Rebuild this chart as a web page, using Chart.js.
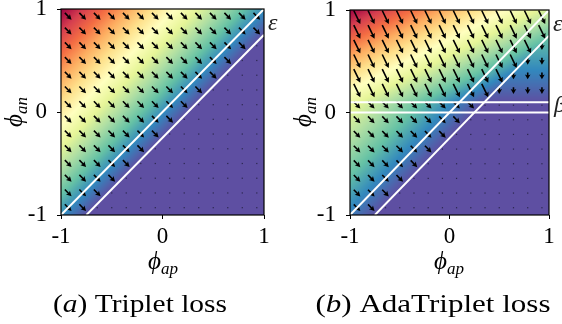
<!DOCTYPE html>
<html><head><meta charset="utf-8">
<script src="https://cdn.jsdelivr.net/npm/chart.js@4.4.0/dist/chart.umd.min.js"></script>
<style>
html,body{margin:0;padding:0;background:#fff;width:562px;height:324px;overflow:hidden;}
canvas{position:absolute;top:0;}
#ca{left:0;} #cb{left:281px;}
</style></head><body>
<canvas id="ca" width="281" height="324"></canvas>
<canvas id="cb" width="281" height="324"></canvas>
<script>
// ---------- data ----------
const tickValues = [-1, 0, 1];
const gridCenters = [-0.929, -0.786, -0.643, -0.5, -0.357, -0.214, -0.071, 0.071, 0.214, 0.357, 0.5, 0.643, 0.786, 0.929];
const epsilon = 0.25;
const beta = 0.1;
// arrow field; rows from top (phi_an = 0.929) to bottom
// D = (1,-1), S = (1,-2), V = (0,-1), . = zero (dot)
const tripletArrows = [
 "DDDDDDDDDDDDDD",
 "DDDDDDDDDDDDDD",
 "DDDDDDDDDDDDD.",
 "DDDDDDDDDDDD..",
 "DDDDDDDDDDD...",
 "DDDDDDDDDD....",
 "DDDDDDDDD.....",
 "DDDDDDDD......",
 "DDDDDDD.......",
 "DDDDDD........",
 "DDDDD.........",
 "DDDD..........",
 "DDD...........",
 "DD............"
];
const adaTripletArrows = [
 "SSSSSSSSSSSSSS",
 "SSSSSSSSSSSSSS",
 "SSSSSSSSSSSSSV",
 "SSSSSSSSSSSSVV",
 "SSSSSSSSSSSVVV",
 "SSSSSSSSSSVVVV",
 "DDDDDDDDD.....",
 "DDDDDDDD......",
 "DDDDDDD.......",
 "DDDDDD........",
 "DDDDD.........",
 "DDDD..........",
 "DDD...........",
 "DD............"
];
const arrowCodes = {D:[1,-1], S:[1,-2], V:[0,-1], '.':[0,0]};
const spectral = ['#9e0142','#d53e4f','#f46d43','#fdae61','#fee08b','#ffffbf','#e6f598','#abdda4','#66c2a5','#3288bd','#5e4fa2'];

// ---------- helpers ----------
function hexRGB(h){return [parseInt(h.slice(1,3),16),parseInt(h.slice(3,5),16),parseInt(h.slice(5,7),16)];}
const spectralRGB = spectral.map(hexRGB);
function spectralR(t){
  const s = 1 - Math.min(1, Math.max(0, t));
  const f = s*10; const i = Math.min(9, Math.floor(f)); const u = f - i;
  const a = spectralRGB[i], b = spectralRGB[i+1];
  return [a[0]+(b[0]-a[0])*u, a[1]+(b[1]-a[1])*u, a[2]+(b[2]-a[2])*u];
}
function tripletLoss(ap, an){ return Math.max(0, an - ap + epsilon); }
function adaTripletLoss(ap, an){ return Math.max(0, an - ap + epsilon) + Math.max(0, an - beta); }

function arrowPoints(codes){
  const pts = [];
  codes.forEach((row, r) => {
    const an = gridCenters[gridCenters.length - 1 - r];
    for (let j = 0; j < row.length; j++) {
      const v = arrowCodes[row[j]];
      pts.push({x: gridCenters[j], y: an, u: v[0], w: v[1]});
    }
  });
  return pts;
}

const SERIF = '"Liberation Serif", "DejaVu Serif", serif';
function richWidth(ctx, parts){
  let w = 0;
  parts.forEach(p => { ctx.font = p.f; w += ctx.measureText(p.t).width; });
  return w;
}
function drawRich(ctx, parts, x, y, targetW){
  const w = richWidth(ctx, parts);
  const sx = targetW ? targetW / w : 1;
  ctx.save();
  ctx.translate(x, y);
  ctx.scale(sx, 1);
  let cx = -w/2;
  ctx.textBaseline = 'alphabetic';
  ctx.textAlign = 'left';
  ctx.fillStyle = '#000';
  parts.forEach(p => { ctx.font = p.f; ctx.fillText(p.t, cx, p.dy || 0); cx += ctx.measureText(p.t).width; });
  ctx.restore();
}
const phiFont = 'italic 25px ' + SERIF;
const subFont = 'italic 17px ' + SERIF;

function drawArrow(ctx, cx, cy, dx, dy){
  const len = Math.hypot(dx, dy);
  if (len < 0.01) {
    ctx.fillStyle = 'rgba(20,20,40,0.7)';
    ctx.fillRect(cx - 0.6, cy - 0.6, 1.2, 1.2);
    return;
  }
  const ux = dx/len, uy = dy/len, nx = -uy, ny = ux;
  const tx = cx - dx/2, ty = cy - dy/2, hx = cx + dx/2, hy = cy + dy/2;
  const hl = Math.min(5.2, len*0.72), hw = 2.8, sw = 0.8, ha = hl*0.85;
  const bx = hx - ux*hl, by = hy - uy*hl;
  const sx = hx - ux*ha, sy = hy - uy*ha;
  ctx.fillStyle = '#000';
  ctx.beginPath();
  ctx.moveTo(tx + nx*sw, ty + ny*sw);
  ctx.lineTo(sx + nx*sw, sy + ny*sw);
  ctx.lineTo(bx + nx*hw, by + ny*hw);
  ctx.lineTo(hx, hy);
  ctx.lineTo(bx - nx*hw, by - ny*hw);
  ctx.lineTo(sx - nx*sw, sy - ny*sw);
  ctx.lineTo(tx - nx*sw, ty - ny*sw);
  ctx.closePath();
  ctx.fill();
}

function makePanel(canvasId, cfg){
  const fieldPlugin = {
    id: 'field_' + canvasId,
    beforeDatasetsDraw(chart){
      const {ctx, chartArea: a, scales: {x, y}} = chart;
      // heat map
      const L = Math.floor(a.left), T = Math.floor(a.top);
      const W = Math.ceil(a.right) - L, H = Math.ceil(a.bottom) - T;
      const off = document.createElement('canvas'); off.width = W; off.height = H;
      const octx = off.getContext('2d');
      const img = octx.createImageData(W, H);
      const vmax = cfg.loss(-1, 1);
      for (let py = 0; py < H; py++) {
        const an = y.getValueForPixel(T + py + 0.5);
        for (let px = 0; px < W; px++) {
          const ap = x.getValueForPixel(L + px + 0.5);
          const c = spectralR(cfg.loss(ap, an) / vmax);
          const k = (py*W + px)*4;
          img.data[k] = c[0]; img.data[k+1] = c[1]; img.data[k+2] = c[2]; img.data[k+3] = 255;
        }
      }
      octx.putImageData(img, 0, 0);
      ctx.drawImage(off, L, T);
      // arrows
      const meta = chart.getDatasetMeta(0);
      const ds = chart.data.datasets[0];
      const sx = Math.abs(x.getPixelForValue(cfg.arrowScale) - x.getPixelForValue(0));
      const sy = Math.abs(y.getPixelForValue(cfg.arrowScale) - y.getPixelForValue(0));
      meta.data.forEach((el, i) => {
        const d = ds.data[i];
        drawArrow(ctx, el.x, el.y, d.u * sx, -d.w * sy);
      });
    },
    afterDatasetsDraw(chart){
      const {ctx, chartArea: a} = chart;
      ctx.save();
      ctx.strokeStyle = '#000'; ctx.lineWidth = 1.2;
      ctx.strokeRect(a.left, a.top, a.right - a.left, a.bottom - a.top);
      ctx.restore();
    },
    afterDraw(chart){
      const ctx = chart.ctx;
      // x title
      drawRich(ctx, [{t:'\u03D5', f:phiFont}, {t:'ap', f:subFont, dy:5}], cfg.xTitle[0], cfg.xTitle[1]);
      // y title
      ctx.save();
      ctx.translate(cfg.yTitle[0], cfg.yTitle[1]);
      ctx.rotate(-Math.PI/2);
      drawRich(ctx, [{t:'\u03D5', f:phiFont}, {t:'an', f:subFont, dy:5}], 0, 0);
      ctx.restore();
      // side labels
      cfg.sideLabels.forEach(s => {
        ctx.save(); ctx.font = 'italic 24px ' + SERIF; ctx.fillStyle = '#222';
        ctx.textAlign = 'left'; ctx.textBaseline = 'alphabetic';
        ctx.fillText(s.t, s.x, s.y); ctx.restore();
      });
      // caption
      const rf = '25px ' + SERIF, itf = 'italic 25px ' + SERIF;
      drawRich(ctx, [{t:'(', f:rf}, {t:cfg.caption[0], f:itf}, {t:')', f:rf}, {t:' ' + cfg.caption[1], f:rf}], cfg.capPos[0], cfg.capPos[1], cfg.capPos[2]);
    }
  };
  const tickFont = {family: SERIF, size: 23};
  const datasets = [{
    data: arrowPoints(cfg.arrows), pointRadius: 0, pointHoverRadius: 0, showLine: false
  }];
  cfg.lines.forEach(l => datasets.push({
    data: l, showLine: true, borderColor: '#ffffff', borderWidth: 2, pointRadius: 0, fill: false, tension: 0
  }));
  return new Chart(document.getElementById(canvasId), {
    type: 'scatter',
    data: {datasets},
    plugins: [fieldPlugin],
    options: {
      responsive: false, animation: false, devicePixelRatio: 1, events: [],
      layout: {padding: {left: 0, right: cfg.padR, top: cfg.padT, bottom: 0}},
      plugins: {legend: {display: false}, tooltip: {enabled: false}},
      scales: {
        x: {
          type: 'linear', min: -1, max: 1,
          afterBuildTicks: s => { s.ticks = tickValues.map(v => ({value: v})); },
          ticks: {font: tickFont, color: '#000', padding: 4, maxRotation: 0, autoSkip: false, callback: v => String(v)},
          grid: {display: true, drawOnChartArea: false, drawTicks: true, tickLength: 4, color: '#000', lineWidth: 1},
          border: {display: false},
          afterFit: s => { s.height = 324 - 215; s.paddingLeft = 0; s.paddingRight = 0; }
        },
        y: {
          type: 'linear', min: -1, max: 1,
          afterBuildTicks: s => { s.ticks = tickValues.map(v => ({value: v})); },
          ticks: {font: tickFont, color: '#000', padding: 10, autoSkip: false, callback: v => String(v)},
          grid: {display: true, drawOnChartArea: false, drawTicks: true, tickLength: 4, color: '#000', lineWidth: 1},
          border: {display: false},
          afterFit: s => { s.width = cfg.yW; s.paddingTop = 0; s.paddingBottom = 0; }
        }
      }
    }
  });
}

makePanel('ca', {
  loss: tripletLoss, arrows: tripletArrows, arrowScale: 0.066,
  lines: [[{x:-1,y:-1},{x:1,y:1}], [{x:-1+epsilon,y:-1},{x:1,y:1-epsilon}]],
  padR: 17, padT: 9, yW: 61,
  xTitle: [163, 269], yTitle: [22, 112],
  sideLabels: [{t:'\u03B5', x:268, y:30}],
  caption: ['a', 'Triplet loss'], capPos: [140, 312, 174]
});
makePanel('cb', {
  loss: adaTripletLoss, arrows: adaTripletArrows, arrowScale: 0.066,
  lines: [[{x:-1,y:-1},{x:1,y:1}], [{x:-1+epsilon,y:-1},{x:1,y:1-epsilon}], [{x:-1,y:0},{x:1,y:0}], [{x:-1,y:beta},{x:1,y:beta}]],
  padR: 13, padT: 10, yW: 69,
  xTitle: [168, 269], yTitle: [30, 112],
  sideLabels: [{t:'\u03B5', x:272, y:31}, {t:'\u03B2', x:273, y:112}],
  caption: ['b', 'AdaTriplet loss'], capPos: [152, 312, 235]
});
</script>
</body></html>
